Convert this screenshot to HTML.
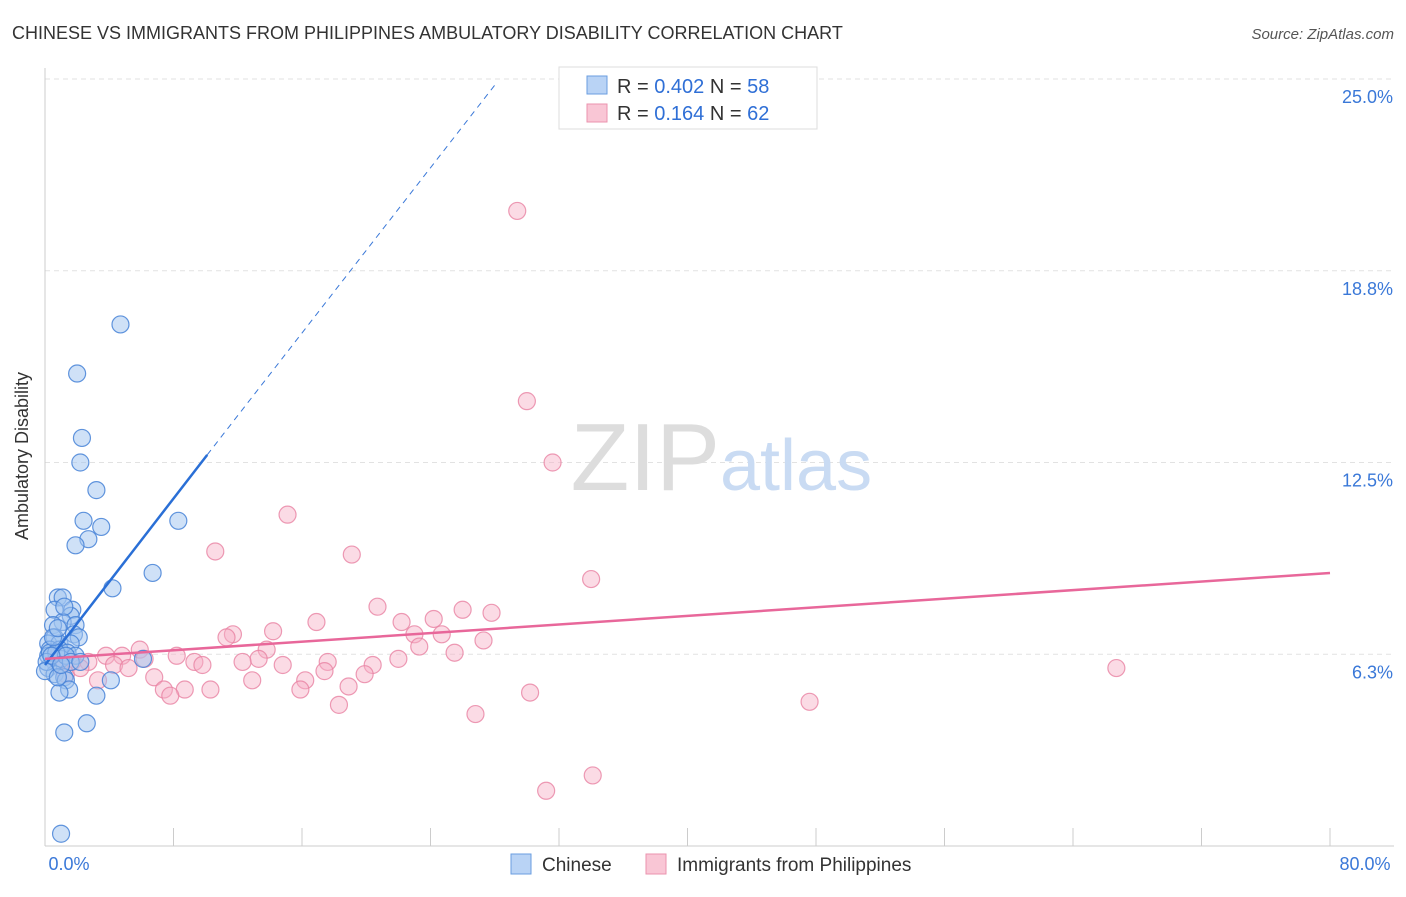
<!DOCTYPE html>
<html><head><meta charset="utf-8"><style>
body{margin:0;background:#fff;font-family:"Liberation Sans",sans-serif}
svg text{font-family:"Liberation Sans",sans-serif}
</style></head><body>
<svg id="chart" width="1406" height="892">
<text x="12" y="39" font-size="18" fill="#333">CHINESE VS IMMIGRANTS FROM PHILIPPINES AMBULATORY DISABILITY CORRELATION CHART</text>
<text x="1394" y="39" font-size="15" fill="#555" font-style="italic" text-anchor="end">Source: ZipAtlas.com</text>
<text x="28" y="456" font-size="18" fill="#333" transform="rotate(-90 28 456)" text-anchor="middle">Ambulatory Disability</text>
<g id="grid"></g>
<g id="axes"></g>
<text x="720" y="490" font-size="96" fill="#ddd" font-family="Liberation Serif" text-anchor="end">ZIP</text>
<text x="720" y="490" font-size="72" fill="#c9dbf3">atlas</text>
<g id="pts"></g>
<g id="lines"></g>
<g>
<rect x="559" y="67" width="258" height="62" fill="#fff" stroke="#ddd"/>
<rect x="587" y="76" width="20" height="18" fill="#b9d3f5" stroke="#6a9ee0"/>
<rect x="587" y="104" width="20" height="18" fill="#f9c6d5" stroke="#eb93ae"/>
<text x="617" y="93" font-size="20" fill="#333">R = <tspan fill="#2f6fd6">0.402</tspan>   N = <tspan fill="#2f6fd6">58</tspan></text>
<text x="617" y="120" font-size="20" fill="#333">R =  <tspan fill="#2f6fd6">0.164</tspan>   N = <tspan fill="#2f6fd6">62</tspan></text>
</g>
<g>
<rect x="511" y="854" width="20" height="20" fill="#b9d3f5" stroke="#6a9ee0"/>
<text x="542" y="871" font-size="19" fill="#333">Chinese</text>
<rect x="646" y="854" width="20" height="20" fill="#f9c6d5" stroke="#eb93ae"/>
<text x="677" y="871" font-size="19" fill="#333">Immigrants from Philippines</text>
</g>
</svg>
<script>
const yTicks=[6.25,12.5,18.75,25];
const yTickLabels=["6.3%","12.5%","18.8%","25.0%"];
const xTickLabels=["0.0%","80.0%"];
const chineseX=[4.7,2.0,2.3,2.2,3.2,2.4,3.5,2.7,1.9,8.3,6.7,4.2,0.8,1.1,0.6,1.7,1.6,1.1,1.9,0.5,1.8,2.1,0.6,0.2,0.9,1.6,0.3,0.9,1.4,1.9,0.2,0.6,1.0,6.1,0.2,0.6,1.2,1.3,4.1,1.5,0.9,3.2,2.6,1.2,1.0,0.3,0.7,1.3,0.1,0.5,0.8,1.2,0.4,1.6,0.0,0.8,1.0,2.2];
const chineseY=[17.0,15.4,13.3,12.5,11.6,10.6,10.4,10.0,9.8,10.6,8.9,8.4,8.1,8.1,7.7,7.7,7.5,7.3,7.2,7.2,6.9,6.8,6.8,6.6,6.6,6.6,6.4,6.4,6.3,6.2,6.2,6.0,6.1,6.1,5.8,5.6,5.5,5.4,5.4,5.1,5.0,4.9,4.0,3.7,0.4,6.3,6.3,6.2,6.0,6.8,7.1,7.8,6.2,6.0,5.7,5.5,5.9,6.0];
const philX=[29.4,30.0,31.6,15.1,10.6,19.1,34.0,20.7,26.0,27.8,16.9,22.2,24.2,23.0,24.7,14.2,11.7,11.3,27.3,23.3,5.9,13.8,25.5,4.8,3.8,8.2,6.2,22.0,13.3,12.3,17.6,9.3,9.8,20.4,14.8,2.7,4.3,5.2,1.7,0.9,17.4,1.3,3.3,19.9,6.8,12.9,16.2,18.9,7.4,8.7,10.3,15.9,7.8,30.2,18.3,47.6,66.7,26.8,34.1,31.2,0.6,2.2];
const philY=[20.7,14.5,12.5,10.8,9.6,9.5,8.7,7.8,7.7,7.6,7.3,7.3,7.4,6.9,6.9,7.0,6.9,6.8,6.7,6.5,6.4,6.4,6.3,6.2,6.2,6.2,6.1,6.1,6.1,6.0,6.0,6.0,5.9,5.9,5.9,6.0,5.9,5.8,6.0,5.9,5.7,5.6,5.4,5.6,5.5,5.4,5.4,5.2,5.1,5.1,5.1,5.1,4.9,5.0,4.6,4.7,5.8,4.3,2.3,1.8,6.0,5.8];
const blueLine={x0:0,y0:5.9,x1:10.1,y1:12.75,xd:28.0,yd:24.8};
const pinkLine={x0:0,y0:6.1,x1:80,y1:8.9};
const X0=45,X1=1330,Ytop=79,Ybot=846;
const sx=v=>X0+(v/80)*(X1-X0);
const sy=v=>Ybot-(v/25)*(Ybot-Ytop);
const NS="http://www.w3.org/2000/svg";
function mk(t,a,p){const e=document.createElementNS(NS,t);for(const k in a)e.setAttribute(k,a[k]);p.appendChild(e);return e;}
const grid=document.getElementById('grid'),axes=document.getElementById('axes');
yTicks.forEach((t,i)=>{
 const l=mk('line',{x1:X0,x2:1394,y1:sy(t),y2:sy(t),stroke:'#e2e2e2','stroke-dasharray':'5,4'},grid);
 
 
 const tx=mk('text',{x:1393,y:sy(t)+24,'font-size':18,fill:'#3a78d8','text-anchor':'end'},axes);
 tx.textContent=yTickLabels[i];
 
 
});
const ax=mk('line',{x1:X0,x2:X0,y1:68,y2:846,stroke:'#ccc'},axes);


const bx=mk('line',{x1:X0,x2:1394,y1:846,y2:846,stroke:'#ccc'},axes);


for(let i=0;i<=10;i++){
 const x=X0+i*(X1-X0)/10;
 const t=mk('line',{x1:x,x2:x,y1:828,y2:846,stroke:'#ccc'},axes);
 
 
}
[[X0+24,0],[1365,1]].forEach(([x,i])=>{
 const tx=mk('text',{x:x,y:870,'font-size':18,fill:'#3a78d8','text-anchor':'middle'},axes);
 tx.textContent=xTickLabels[i];
 
 
});
const pts=document.getElementById('pts');
philX.forEach((v,i)=>{
 const c=mk('circle',{cx:sx(v),cy:sy(philY[i]),r:8.5,fill:'rgba(246,175,198,0.45)',stroke:'rgba(232,130,162,0.8)','stroke-width':1.2},pts);
 
 
});
chineseX.forEach((v,i)=>{
 const c=mk('circle',{cx:sx(v),cy:sy(chineseY[i]),r:8.5,fill:'rgba(160,196,240,0.5)',stroke:'rgba(70,130,215,0.85)','stroke-width':1.2},pts);
 
 
});
const lines=document.getElementById('lines');
const bd=mk('line',{x1:sx(blueLine.x1),y1:sy(blueLine.y1),x2:sx(blueLine.xd),y2:sy(blueLine.yd),stroke:'#3a78d8','stroke-width':1,'stroke-dasharray':'6,5'},lines);


const bl=mk('line',{x1:sx(blueLine.x0),y1:sy(blueLine.y0),x2:sx(blueLine.x1),y2:sy(blueLine.y1),stroke:'#2a6fd6','stroke-width':2.5},lines);


const pl=mk('line',{x1:sx(pinkLine.x0),y1:sy(pinkLine.y0),x2:sx(pinkLine.x1),y2:sy(pinkLine.y1),stroke:'#e8679a','stroke-width':2.5},lines);


</script>
</body></html>
